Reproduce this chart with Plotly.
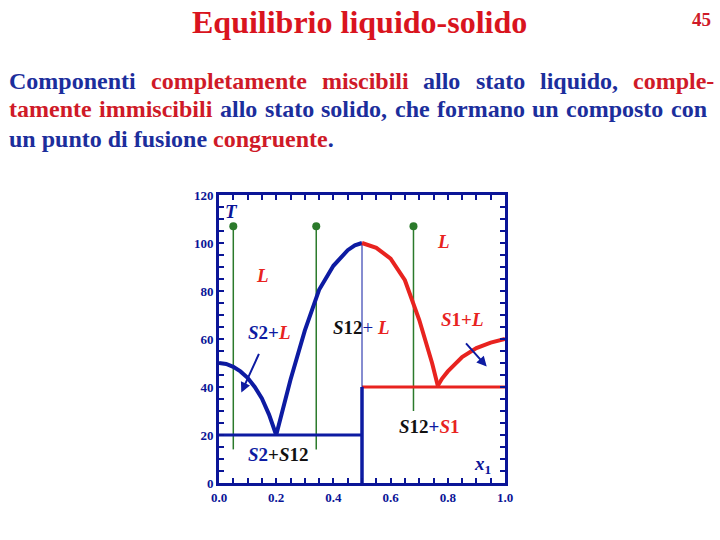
import plotly.graph_objects as go

# ---------------- data ----------------
# liquidus of S2 (left branch, ends at eutectic 1)
liq_s2_x = [0.0, 0.025, 0.05, 0.075, 0.1, 0.125, 0.15, 0.175, 0.2]
liq_s2_T = [50, 49.6, 48.4, 46.5, 43.8, 40.0, 35.2, 28.5, 20]
# liquidus of compound S12, left side (blue)
liq_s12a_x = [0.2, 0.25, 0.3, 0.35, 0.4, 0.45, 0.475, 0.5]
liq_s12a_T = [20, 43, 63.5, 80.5, 90.5, 97.0, 99.0, 100]
# liquidus of compound S12, right side (red)
liq_s12b_x = [0.5, 0.55, 0.6, 0.65, 0.7, 0.72, 0.745, 0.765]
liq_s12b_T = [100, 98, 93.5, 84.5, 68, 60, 50, 40.5]
# liquidus of S1
liq_s1_x = [0.765, 0.78, 0.8, 0.85, 0.9, 0.95, 1.0]
liq_s1_T = [40.5, 43.5, 46.5, 52.5, 56.2, 58.5, 60]
# eutectic lines
eut1_x = [0.0, 0.5]
eut1_T = [20, 20]
eut2_x = [0.5, 1.0]
eut2_T = [40, 40]
# compound composition line
comp_x = [0.5, 0.5]
comp_low_T = [0, 40]
comp_high_T = [40, 100]
# isopleths (cooling paths)
iso_x = [0.05, 0.34, 0.68]
iso_top = [107, 107, 107]
iso_bottom = [14, 14, 30]

x_tickvals = [0.0, 0.2, 0.4, 0.6, 0.8, 1.0]
x_ticktext = ["0.0", "0.2", "0.4", "0.6", "0.8", "1.0"]
y_tickvals = [0, 20, 40, 60, 80, 100, 120]
y_ticktext = ["0", "20", "40", "60", "80", "100", "120"]

# ---------------- style ----------------
W, H = 720, 540
NAVY = "#0b1597"
BLUE = "#0d1ba2"
RED = "#e8231f"
GREEN = "#2b7a2b"
TXT_BLUE = "#1c2e9c"
TXT_RED = "#cf1a28"
TITLE_RED = "#d9141e"
SERIF = "Liberation Serif, Times New Roman, serif"

fig = go.Figure()


def add_line(x, y, color, width):
    fig.add_trace(go.Scatter(x=x, y=y, mode="lines",
                             line=dict(color=color, width=width),
                             hoverinfo="skip", showlegend=False))


# isopleths
for xi, top, bot in zip(iso_x, iso_top, iso_bottom):
    add_line([xi, xi], [bot, top], GREEN, 1.5)
fig.add_trace(go.Scatter(x=iso_x, y=iso_top, mode="markers",
                         marker=dict(color=GREEN, size=8),
                         hoverinfo="skip", showlegend=False))

add_line(eut1_x, eut1_T, BLUE, 3)
add_line(eut2_x, eut2_T, RED, 3)
add_line(comp_x, comp_low_T, BLUE, 3.5)
add_line(comp_x, comp_high_T, BLUE, 1)
add_line(liq_s2_x, liq_s2_T, BLUE, 4)
add_line(liq_s12a_x, liq_s12a_T, BLUE, 4)
add_line(liq_s12b_x, liq_s12b_T, RED, 4)
add_line(liq_s1_x, liq_s1_T, RED, 4)

ann = []


def lab(x, y, text, size=19, color=NAVY):
    ann.append(dict(x=x, y=y, xref="x", yref="y", text=text, showarrow=False,
                    xanchor="center", yanchor="middle",
                    font=dict(family=SERIF, size=size, color=color)))


def c(t, col):
    return f"<span style='color:{col}'>{t}</span>"


BK = "#111111"
lab(0.043, 113, "<b><i>T</i></b>", color=NAVY)
lab(0.152, 86.5, "<b><i>L</i></b>", color=RED)
lab(0.784, 100.5, "<b><i>L</i></b>", color=RED)
lab(0.177, 62.6, "<b>" + c("<i>S</i>2+", BLUE) + c("<i>L</i>", RED) + "</b>")
lab(0.498, 64.6, "<b>" + c("<i>S</i>12", BK) + "</b>" + c("+", BLUE) + " " + c("<b><i>L</i></b>", RED))
lab(0.853, 68.3, "<b>" + c("<i>S</i>1+<i>L</i>", RED) + "</b>")
lab(0.206, 11.8, "<b>" + c("<i>S</i>2", BLUE) + c("+<i>S</i>12", BK) + "</b>")
lab(0.733, 23.6, "<b>" + c("<i>S</i>12", BK) + c("+", BLUE) + c("<i>S</i>1", RED) + "</b>")
lab(0.922, 7.6, "<b><i>x</i><sub>1</sub></b>", color=NAVY)

# arrows
ann.append(dict(x=0.078, y=37.7, ax=0.142, ay=54.4, xref="x", yref="y",
                axref="x", ayref="y", text="", showarrow=True, arrowhead=2,
                arrowsize=1, arrowwidth=2, arrowcolor=BLUE))
ann.append(dict(x=0.936, y=48.5, ax=0.859, ay=58.8, xref="x", yref="y",
                axref="x", ayref="y", text="", showarrow=True, arrowhead=2,
                arrowsize=1, arrowwidth=2, arrowcolor=BLUE))


def fx(px):
    return px / W


def fy(py):
    return 1 - py / H


def ptext(x, y, text, size, color, xanchor="left"):
    ann.append(dict(x=fx(x), y=fy(y), xref="paper", yref="paper", text=text,
                    showarrow=False, xanchor=xanchor, yanchor="middle",
                    font=dict(family=SERIF, size=size, color=color)))


# title and page number
ptext(359, 22, "<b>Equilibrio liquido-solido</b>", 32, TITLE_RED, "center")
ptext(701, 19, "<b>45</b>", 19, TXT_RED, "center")

# paragraph (justified: words placed individually)
PSIZE = 24
line1_words = ["Componenti", "completamente", "miscibili", "allo", "stato", "liquido,", "comple-"]
line1_cols = [TXT_BLUE, TXT_RED, TXT_RED, TXT_BLUE, TXT_BLUE, TXT_BLUE, TXT_RED]
line1_left = [7, 149, 320, 421, 474, 538, 631]
for w, col, xl in zip(line1_words, line1_cols, line1_left):
    ptext(xl, 81, f"<b>{w}</b>", PSIZE, col)

line2_words = ["tamente", "immiscibili", "allo", "stato", "solido,", "che", "formano",
               "un", "composto", "con"]
line2_cols = [TXT_RED, TXT_RED] + [TXT_BLUE] * 8
line2_left = [7, 97, 218, 263, 319, 393, 435, 530, 564, 669]
for w, col, xl in zip(line2_words, line2_cols, line2_left):
    ptext(xl, 109.5, f"<b>{w}</b>", PSIZE, col)

line3 = "<b>un punto di fusione " + c("congruente", TXT_RED) + ".</b>"
ptext(7, 138.5, line3, PSIZE, TXT_BLUE)

tickfont = dict(family=SERIF, size=13, color=NAVY)
axis_common = dict(showline=True, linewidth=3, linecolor=NAVY, mirror="ticks",
                   ticks="inside", ticklen=5, tickwidth=2, tickcolor=NAVY,
                   showgrid=False, zeroline=False, tickfont=tickfont,
                   fixedrange=True)

fig.update_layout(
    width=W, height=H,
    margin=dict(l=0, r=0, t=0, b=0, pad=0, autoexpand=False),
    paper_bgcolor="white", plot_bgcolor="white",
    showlegend=False,
    annotations=ann,
    xaxis=dict(range=[0, 1], domain=[219 / W, 505 / W],
               tickmode="array", tickvals=x_tickvals,
               ticktext=[f"<b>{t}</b>" for t in x_ticktext],
               minor=dict(tickmode="linear", tick0=0, dtick=0.05, ticks="inside",
                          ticklen=5, tickwidth=2, tickcolor=NAVY),
               **axis_common),
    yaxis=dict(range=[0, 120], domain=[1 - 483 / H, 1 - 195 / H],
               tickmode="array", tickvals=y_tickvals,
               ticktext=[f"<b>{t}</b>" for t in y_ticktext],
               minor=dict(tickmode="linear", tick0=0, dtick=5, ticks="inside",
                          ticklen=5, tickwidth=2, tickcolor=NAVY),
               **axis_common),
)

fig.write_html("out.html", config={"displayModeBar": False},
               post_script="document.body.style.margin='0px';")
